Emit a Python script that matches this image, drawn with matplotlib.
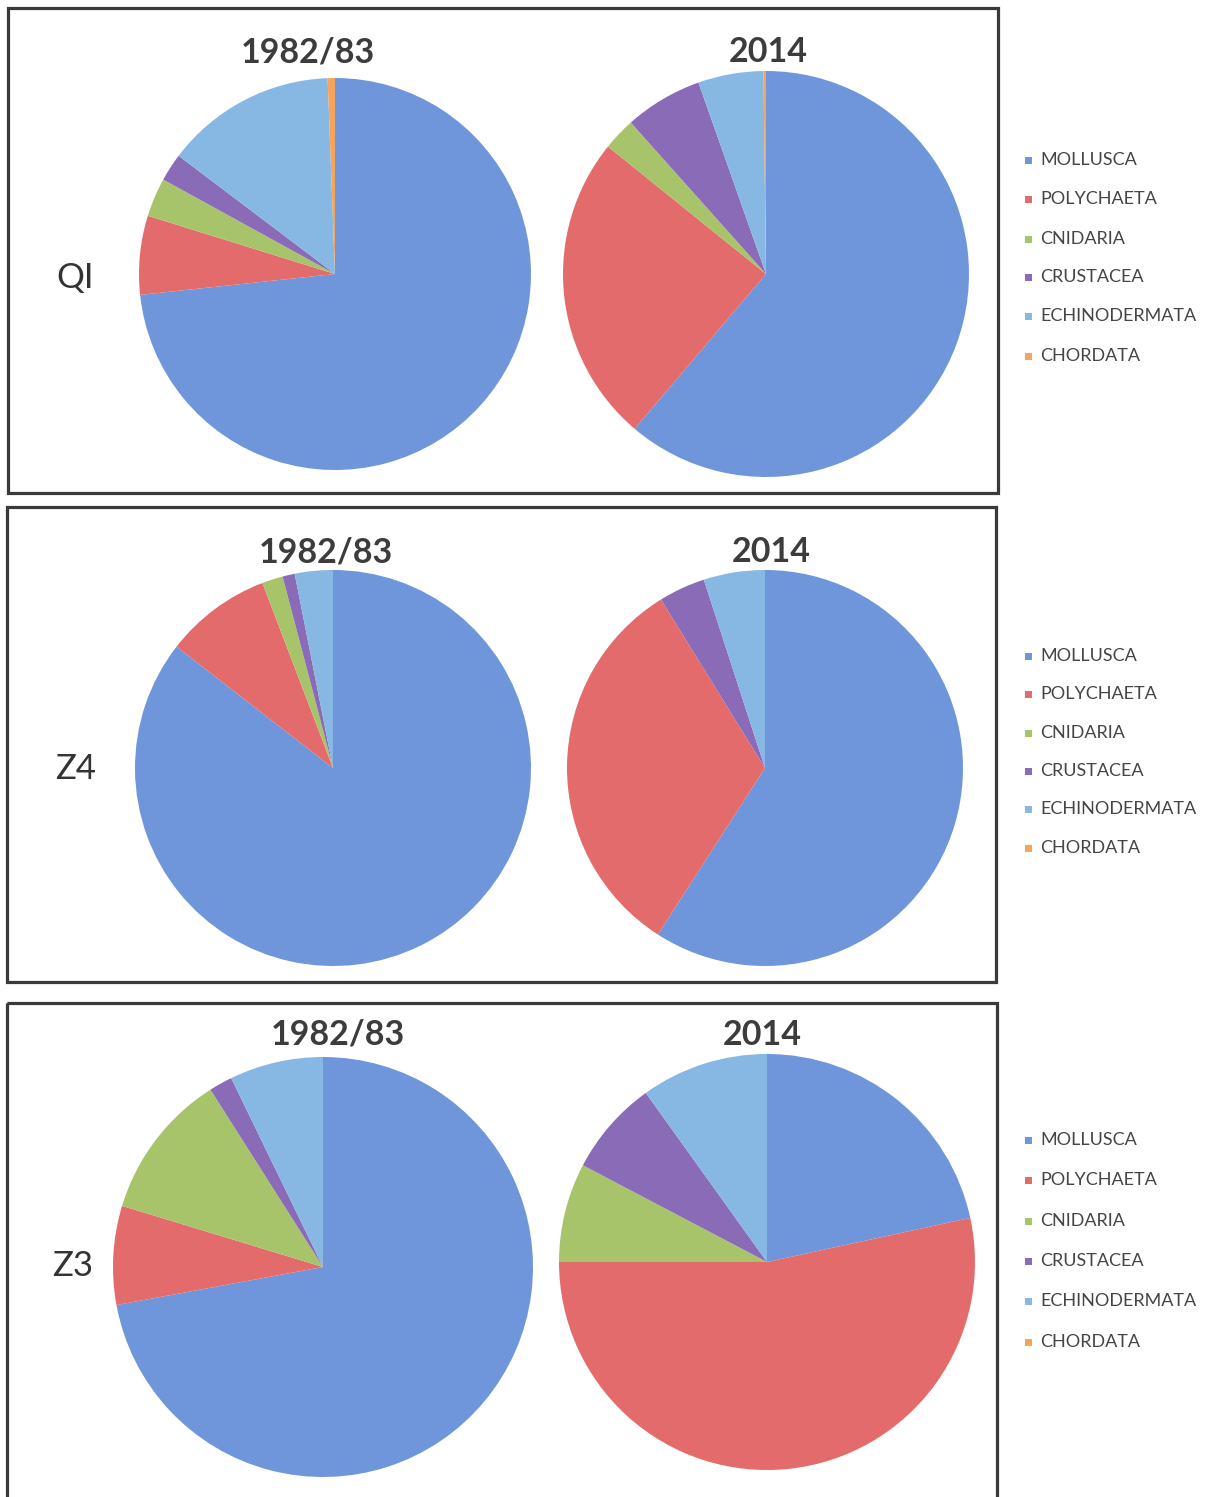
import numpy as np
import matplotlib
matplotlib.use("Agg")
import matplotlib.pyplot as plt
from matplotlib.patches import Rectangle

# --- Phyla and colours ---
phyla = ["MOLLUSCA", "POLYCHAETA", "CNIDARIA", "CRUSTACEA", "ECHINODERMATA", "CHORDATA"]
colors = ["#6f96db", "#e36b6b", "#a8c46a", "#8a6bb7", "#86b8e3", "#f6a35d"]

# --- Relative abundance (%) per station and period ---
qi_1982 = [73.3, 6.5, 3.2, 2.3, 14.1, 0.6]
qi_2014 = [61.2, 24.6, 2.6, 6.2, 5.2, 0.2]
z4_1982 = [85.5, 8.7, 1.7, 1.0, 3.1, 0.0]
z4_2014 = [59.1, 32.1, 0.0, 3.8, 5.0, 0.0]
z3_1982 = [72.1, 7.6, 11.3, 1.8, 7.2, 0.0]
z3_2014 = [21.6, 53.4, 7.7, 7.4, 9.9, 0.0]

stations = ["QI", "Z4", "Z3"]
periods = ["1982/83", "2014"]
data = [[qi_1982, qi_2014], [z4_1982, z4_2014], [z3_1982, z3_2014]]

# --- Layout (pixels) ---
W, H = 1208, 1497
boxes = [(8, 8, 990, 485), (7, 507, 989, 475), (7, 1003, 990, 520)]
pie_centers = [[(335, 274, 196), (766, 274, 203)],
               [(333, 768, 198), (765, 768, 198)],
               [(323, 1267, 210), (767, 1262, 208)]]
title_pos = [[(308, 52), (768, 52)],
             [(326, 552), (771, 552)],
             [(338, 1035), (762, 1035)]]
label_pos = [(75, 278), (76, 769), (73, 1266)]
legend_y = [[160, 199, 239, 277, 316, 356],
            [656, 694, 733, 771, 809, 848],
            [1140, 1180, 1221, 1261, 1301, 1342]]

fig = plt.figure(figsize=(W / 100, H / 100), dpi=100)
bg = fig.add_axes([0, 0, 1, 1])
bg.set_xlim(0, W)
bg.set_ylim(H, 0)
bg.axis("off")

for i in range(3):
    x0, y0, bw, bh = boxes[i]
    bg.add_patch(Rectangle((x0, y0), bw, bh, fill=False, edgecolor="#3a3a3a", lw=2.3))
    bg.text(*label_pos[i], stations[i], fontsize=25, family="Lato", color="#333333",
            ha="center", va="center")
    for j in range(2):
        tx, ty = title_pos[i][j]
        bg.text(tx, ty, periods[j], fontsize=24.5, family="Lato", fontweight="bold",
                color="#3c3c3c", ha="center", va="center")
        cx, cy, r = pie_centers[i][j]
        ax = fig.add_axes([(cx - r) / W, 1 - (cy + r) / H, 2 * r / W, 2 * r / H])
        ax.pie(data[i][j], colors=colors, startangle=90, counterclock=False,
               wedgeprops=dict(linewidth=0))
        ax.set_xlim(-1, 1)
        ax.set_ylim(-1, 1)
        ax.axis("off")
    # legend
    for k, name in enumerate(phyla):
        ly = legend_y[i][k]
        bg.add_patch(Rectangle((1025, ly - 3.5), 7, 7, color=colors[k], lw=0))
        bg.text(1040, ly, name, fontsize=13, family="Lato", color="#454545",
                ha="left", va="center")

fig.savefig("out.png", dpi=100)
